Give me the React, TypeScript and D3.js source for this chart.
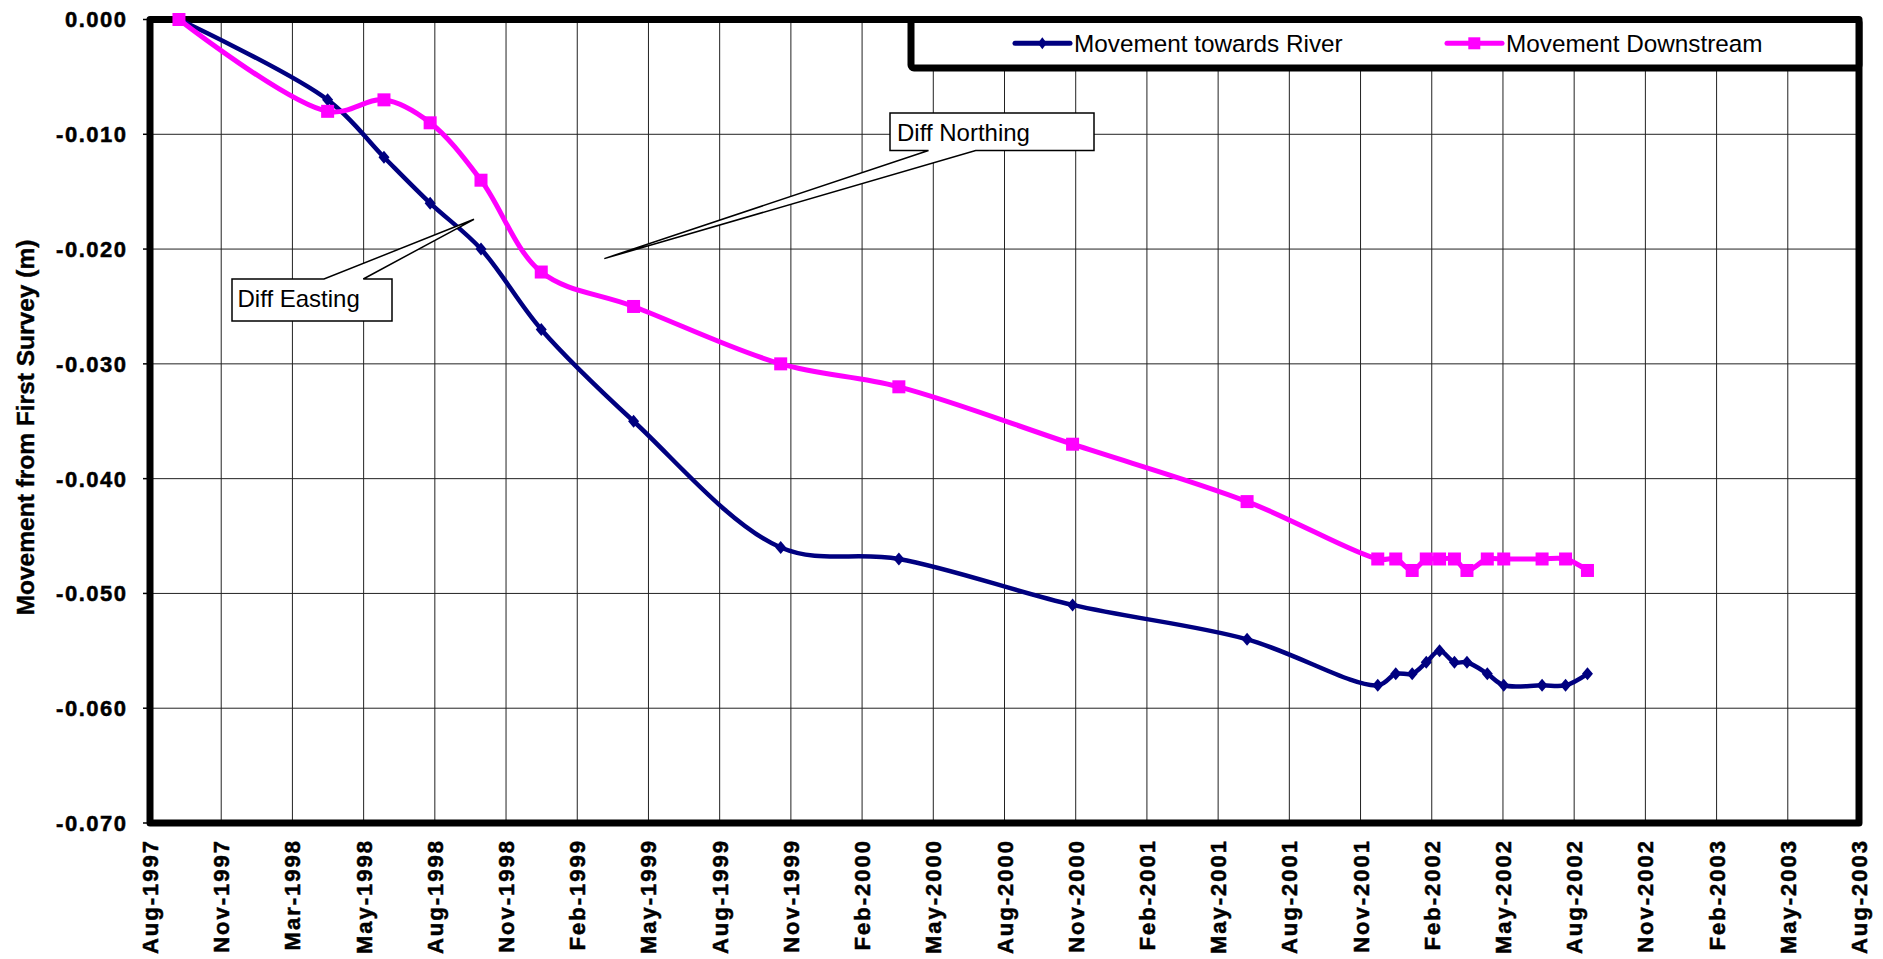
import React from 'react';
import * as d3 from 'd3';

const tickLabels = [
  'Aug-1997', 'Nov-1997', 'Mar-1998', 'May-1998', 'Aug-1998', 'Nov-1998', 'Feb-1999',
  'May-1999', 'Aug-1999', 'Nov-1999', 'Feb-2000', 'May-2000', 'Aug-2000', 'Nov-2000',
  'Feb-2001', 'May-2001', 'Aug-2001', 'Nov-2001', 'Feb-2002', 'May-2002', 'Aug-2002',
  'Nov-2002', 'Feb-2003', 'May-2003', 'Aug-2003',
];
const axisStart = '1997-08-31';
const majorUnitDays = 91;

const yTickValues = [0, -0.01, -0.02, -0.03, -0.04, -0.05, -0.06, -0.07];

const surveyDates = [
  '1997-10-07', '1998-04-15', '1998-06-26', '1998-08-24', '1998-10-28', '1999-01-13',
  '1999-05-11', '1999-11-15', '2000-04-14', '2000-11-22', '2001-07-03',
  '2001-12-17', '2002-01-09', '2002-01-30', '2002-02-17', '2002-03-06', '2002-03-25',
  '2002-04-10', '2002-05-06', '2002-05-27', '2002-07-15', '2002-08-14', '2002-09-11',
];
const towardsRiver = [
  0, -0.007, -0.012, -0.016, -0.020, -0.027, -0.035, -0.046, -0.047, -0.051, -0.054,
  -0.058, -0.057, -0.057, -0.056, -0.055, -0.056, -0.056, -0.057, -0.058, -0.058, -0.058, -0.057,
];
const downstream = [
  0, -0.008, -0.007, -0.009, -0.014, -0.022, -0.025, -0.030, -0.032, -0.037, -0.042,
  -0.047, -0.047, -0.048, -0.047, -0.047, -0.047, -0.048, -0.047, -0.047, -0.047, -0.047, -0.048,
];

const parse = d3.utcParse('%Y-%m-%d');
const start = parse(axisStart) as Date;
const tickDates = tickLabels.map((_, i) => d3.utcDay.offset(start, i * majorUnitDays));

const L = 150, R = 1859, T = 19.5, B = 823;
const x = d3.scaleUtc().domain([tickDates[0], tickDates[tickDates.length - 1]]).range([L, R]);
const y = d3.scaleLinear().domain([-0.07, 0]).range([B, T]);

const FONT = 'Liberation Sans, Arial, Helvetica, sans-serif';

type Pt = { d: Date; v: number };
const riverPts: Pt[] = surveyDates.map((s, i) => ({ d: parse(s) as Date, v: towardsRiver[i] }));
const downPts: Pt[] = surveyDates.map((s, i) => ({ d: parse(s) as Date, v: downstream[i] }));

const line = d3
  .line<Pt>()
  .x((p) => x(p.d))
  .y((p) => y(p.v))
  .curve(d3.curveCatmullRom.alpha(0.5));

const NAVY = '#000080';
const PINK = '#FF00FF';

const diamond = (cx: number, cy: number, w = 5.5, h = 6.5) =>
  `M${cx},${cy - h}L${cx + w},${cy}L${cx},${cy + h}L${cx - w},${cy}Z`;

export default function App() {
  return (
    <svg
      width={1883}
      height={959}
      style={{ position: 'absolute', left: 0, top: 0, background: '#fff' }}
      fontFamily={FONT}
    >
      <rect x={0} y={0} width={1883} height={959} fill="#fff" />
      {/* gridlines */}
      <g stroke="#222" strokeWidth={1}>
        {yTickValues.slice(1, -1).map((v) => (
          <line key={'h' + v} x1={L} x2={R} y1={y(v)} y2={y(v)} />
        ))}
        {tickDates.slice(1, -1).map((d, i) => (
          <line key={'v' + i} x1={x(d)} x2={x(d)} y1={T} y2={B} />
        ))}
      </g>
      {/* y ticks */}
      <g stroke="#000" strokeWidth={1.5}>
        {yTickValues.map((v) => (
          <line key={'t' + v} x1={143} x2={L} y1={y(v)} y2={y(v)} />
        ))}
      </g>
      {/* y tick labels */}
      <g fontWeight="bold" fontSize={22} textAnchor="end" fill="#000" stroke="#000" strokeWidth={0.5} letterSpacing={1.5}>
        {yTickValues.map((v) => (
          <text key={'yl' + v} x={127.5} y={y(v) + 7.9}>
            {d3.format('.3f')(v).replace('−', '-')}
          </text>
        ))}
      </g>
      {/* x tick labels */}
      <g fontWeight="bold" fontSize={22} textAnchor="end" fill="#000" stroke="#000" strokeWidth={0.5} letterSpacing={2}>
        {tickDates.map((d, i) => (
          <text key={'xl' + i} transform={`translate(${x(d) + 8},${839}) rotate(-90)`}>
            {tickLabels[i]}
          </text>
        ))}
      </g>
      {/* y title */}
      <text
        transform={`translate(33.5,${(240 + 615) / 2}) rotate(-90)`}
        textAnchor="middle"
        fontWeight="bold"
        fontSize={24.5}
        fill="#000"
        stroke="#000"
        strokeWidth={0.4}
      >
        Movement from First Survey (m)
      </text>
      {/* plot border */}
      <rect
        x={L}
        y={T}
        width={R - L}
        height={B - T}
        fill="none"
        stroke="#000"
        strokeWidth={7}
        strokeLinejoin="round"
      />
      {/* legend */}
      <rect
        x={911}
        y={T}
        width={R - 911}
        height={68 - T}
        rx={3}
        fill="#fff"
        stroke="#000"
        strokeWidth={7}
        strokeLinejoin="round"
      />
      <g>
        <line x1={1015} x2={1070} y1={43.3} y2={43.3} stroke={NAVY} strokeWidth={5} strokeLinecap="round" />
        <path d={diamond(1042.3, 43.3, 4.5, 6)} fill={NAVY} />
        <text x={1074} y={51.7} fontSize={24.3} fill="#000">
          Movement towards River
        </text>
        <line x1={1447} x2={1502} y1={43.3} y2={43.3} stroke={PINK} strokeWidth={5} strokeLinecap="round" />
        <rect x={1474.3 - 6} y={43.3 - 6} width={12} height={12} fill={PINK} />
        <text x={1506} y={51.7} fontSize={24.3} fill="#000">
          Movement Downstream
        </text>
      </g>
      {/* series */}
      <path d={line(riverPts) || ''} fill="none" stroke={NAVY} strokeWidth={4.5} strokeLinejoin="round" />
      <path d={line(downPts) || ''} fill="none" stroke={PINK} strokeWidth={5} strokeLinejoin="round" />
      {riverPts.map((p, i) => (
        <path key={'rm' + i} d={diamond(x(p.d), y(p.v))} fill={NAVY} />
      ))}
      {downPts.map((p, i) => (
        <rect key={'dm' + i} x={x(p.d) - 6.5} y={y(p.v) - 6.5} width={13} height={13} fill={PINK} />
      ))}
      {/* callouts */}
      <path
        d="M232,279 L324,279 L474,219.3 L363.3,279 L392,279 L392,321 L232,321 Z"
        fill="#fff"
        stroke="#000"
        strokeWidth={1.5}
        strokeLinejoin="miter"
      />
      <text x={237.5} y={306.5} fontSize={24} fill="#000">
        Diff Easting
      </text>
      <path
        d="M890,113 L1094,113 L1094,150.5 L975.7,150.5 L604.3,258.6 L928.5,150.5 L890,150.5 Z"
        fill="#fff"
        stroke="#000"
        strokeWidth={1.5}
        strokeLinejoin="miter"
      />
      <text x={897} y={140.5} fontSize={24} fill="#000">
        Diff Northing
      </text>
    </svg>
  );
}
